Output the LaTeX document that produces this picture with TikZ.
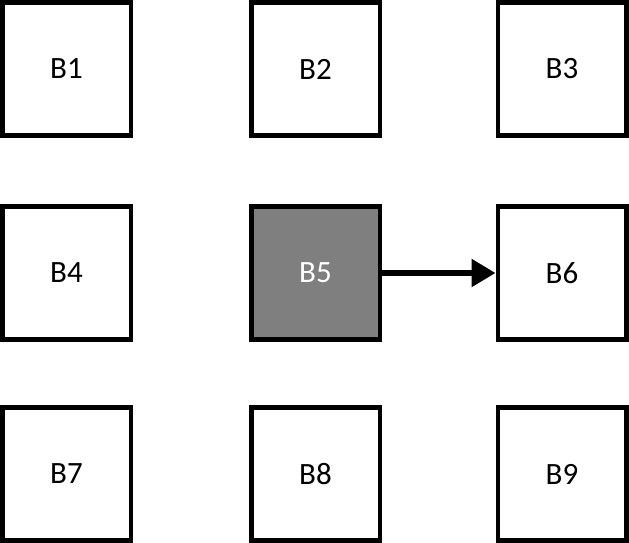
\documentclass[tikz,border=0pt]{standalone}
\usepackage{fontspec}
\setmainfont{Carlito}
\usetikzlibrary{arrows.meta}
\definecolor{boxgray}{HTML}{7F7F7F}
\begin{document}
\begin{tikzpicture}[x=1pt,y=-1pt,
        blk/.style={draw,line width=4.5pt,minimum width=128.5pt,minimum height=133pt,
            inner sep=0pt,font=\fontsize{31}{37}\selectfont}]
            \useasboundingbox (0,0) rectangle (629,543);
            \node[blk] (b1) at (66.5,69) {B1};
            \node[blk] (b2) at (315.5,69) {B2};
            \node[blk] (b3) at (562,69) {B3};
            \node[blk] (b4) at (66.5,273) {B4};
            \node[blk,fill=boxgray,text=white] (b5) at (315.5,273) {B5};
            \node[blk] (b6) at (562,273) {B6};
            \node[blk] (b7) at (66.5,474) {B7};
            \node[blk] (b8) at (315.5,474) {B8};
            \node[blk] (b9) at (562,474) {B9};
            
            \path[-{Triangle[length=24pt,width=27pt]},line width=5.5pt] (b5) edge (b6);
        \end{tikzpicture}
\end{document}
